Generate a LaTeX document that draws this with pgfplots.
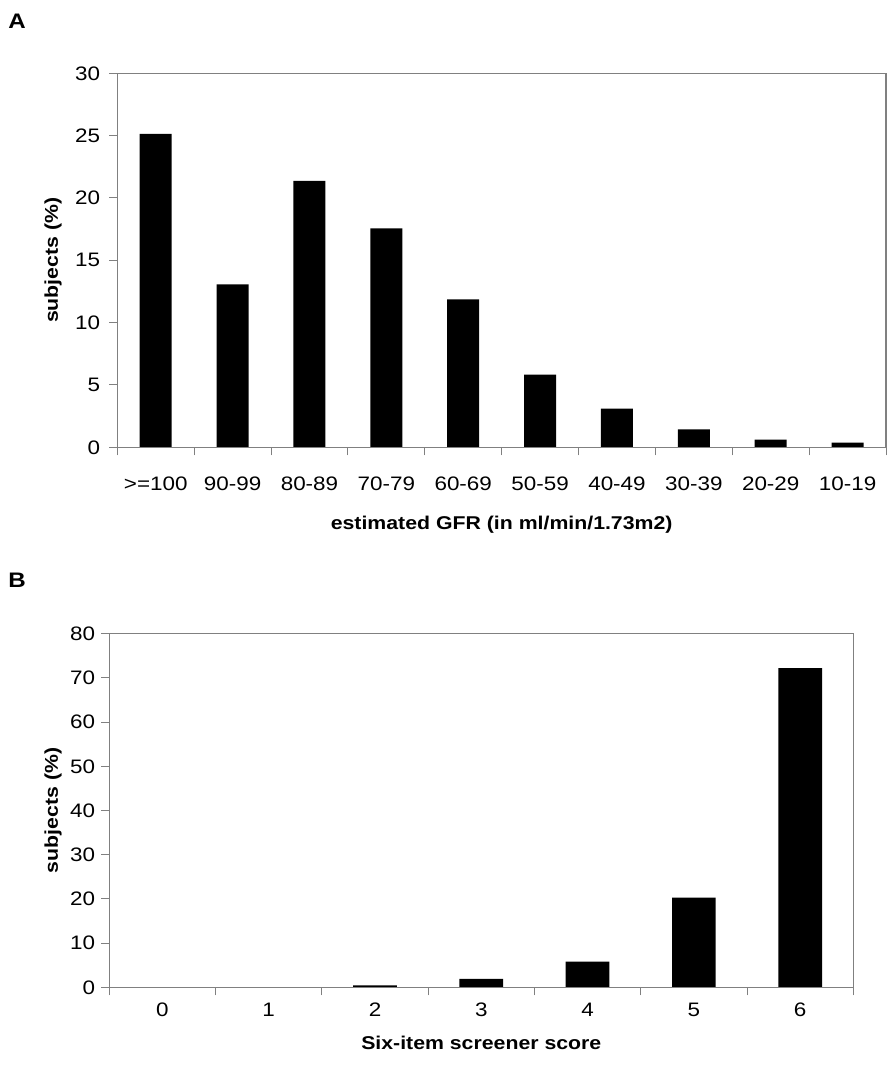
\documentclass[border=0pt]{standalone}
\usepackage{fontspec}
\setmainfont{Liberation Sans}[FakeStretch=1.15]
\usepackage{pgfplots}
\pgfplotsset{compat=1.18}
\definecolor{axgray}{RGB}{128,128,128}
\pgfplotsset{
  mystyle/.style={
    scale only axis, axis on top=true,
    /pgf/number format/assume math mode=true,
    tick label style={font=\fontsize{19.5}{21}\selectfont},
    label style={font=\fontsize{18.5}{20}\selectfont\bfseries},
    axis line style={axgray, line width=1.2pt},
    tick style={axgray, line width=1pt},
    tick align=outside, major tick length=8pt,
    xtick pos=bottom, ytick pos=left,
    yticklabel style={anchor=east, inner sep=0pt},
    xticklabel style={anchor=base, inner sep=0pt},
  }
}
\begin{document}
\begin{tikzpicture}
\path[use as bounding box] (0pt,0pt) rectangle (893pt,1091pt);
\node[anchor=base west, inner sep=0pt, font=\fontsize{21}{24}\selectfont\bfseries] at (8.3pt,1062.7pt) {A};
\node[anchor=base west, inner sep=0pt, font=\fontsize{21}{24}\selectfont\bfseries] at (8.3pt,503pt) {B};
\begin{axis}[mystyle,
  at={(117.3pt,643.7pt)}, anchor=south west,
  width=768.7pt, height=374pt,
  xmin=-0.5, xmax=9.5, ymin=0, ymax=30,
  ytick={0,5,...,30},
  yticklabel style={xshift=-9pt},
  xtick={-0.5,0.5,...,9.5},
  xticklabels={{>=100},{90-99},{80-89},{70-79},{60-69},{50-59},{40-49},{30-39},{20-29},{10-19},{}},
  xticklabel style={xshift=38.435pt, yshift=-35pt},
  xlabel={estimated GFR (in ml/min/1.73m2)},
  xlabel style={at={(axis description cs:0.5,0)}, anchor=base, yshift=-82pt},
  ylabel={subjects (\%)},
  ylabel style={at={(axis description cs:-0.0836,0.5)}, anchor=center},
]
\addplot[ybar, bar width=32pt, fill=black, draw=none] coordinates {
(0,25.15) (1,13.07) (2,21.38) (3,17.56) (4,11.87) (5,5.82) (6,3.10) (7,1.44) (8,0.61) (9,0.37)};
\end{axis}
\begin{axis}[mystyle,
  at={(109.3pt,103.7pt)}, anchor=south west,
  width=744pt, height=353.6pt,
  xmin=-0.5, xmax=6.5, ymin=0, ymax=80,
  ytick={0,10,...,80},
  yticklabel style={xshift=-6pt},
  xtick={-0.5,0.5,...,6.5},
  xticklabels={0,1,2,3,4,5,6,{}},
  xticklabel style={xshift=53.14pt, yshift=-21pt},
  xlabel={Six-item screener score},
  xlabel style={at={(axis description cs:0.5,0)}, anchor=base, yshift=-62pt},
  ylabel={subjects (\%)},
  ylabel style={at={(axis description cs:-0.0757,0.5)}, anchor=center},
]
\addplot[ybar, bar width=43.7pt, fill=black, draw=none] coordinates {
(0,0) (1,0) (2,0.45) (3,1.9) (4,5.8) (5,20.3) (6,72.2)};
\end{axis}
\end{tikzpicture}
\end{document}
